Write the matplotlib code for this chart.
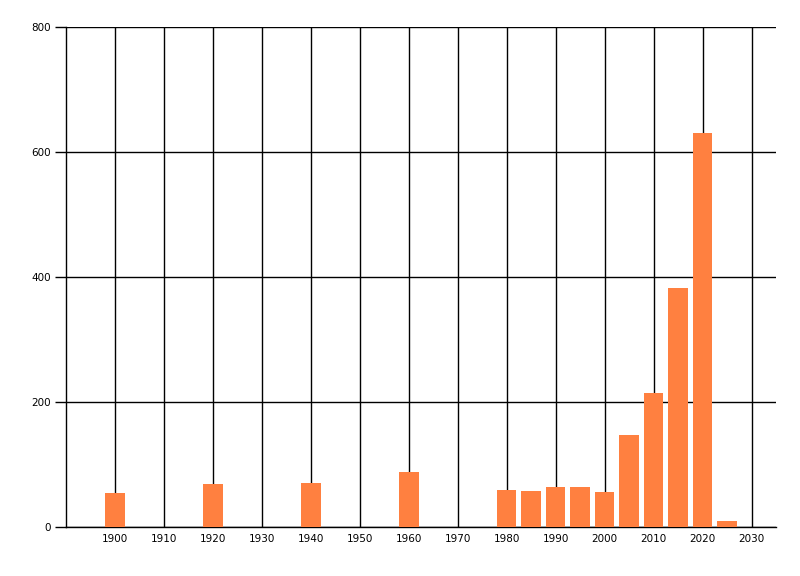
import matplotlib
matplotlib.use("Agg")
import matplotlib.pyplot as plt

# values
years = [1900, 1920, 1940, 1960, 1980, 1985, 1990, 1995, 2000, 2005, 2010, 2015, 2020, 2025]
counts = [55, 69, 71, 88, 59, 57, 64, 64, 56, 148, 215, 383, 630, 10]
x_ticks = list(range(1900, 2031, 10))
y_ticks = [0, 200, 400, 600, 800]

fig = plt.figure(figsize=(8, 5.76), dpi=100)
ax = fig.add_axes([66 / 800, 49 / 576, 710 / 800, 500 / 576])

ax.set_axisbelow(True)
ax.grid(True, color="black", linewidth=1.0)
ax.bar(years, counts, width=4.0, color="#FF8040", zorder=3)

ax.set_xlim(1890, 2035)
ax.set_ylim(0, 800)
ax.set_xticks(x_ticks)
ax.set_yticks(y_ticks)
ax.tick_params(axis="x", length=0, pad=5, labelsize=7.5)
ax.tick_params(axis="y", length=8, width=1, pad=3, labelsize=7.5)

for side in ["top", "right"]:
    ax.spines[side].set_visible(False)
for side in ["left", "bottom"]:
    ax.spines[side].set_color("black")
    ax.spines[side].set_linewidth(1.0)

fig.savefig("out.png", dpi=100)
